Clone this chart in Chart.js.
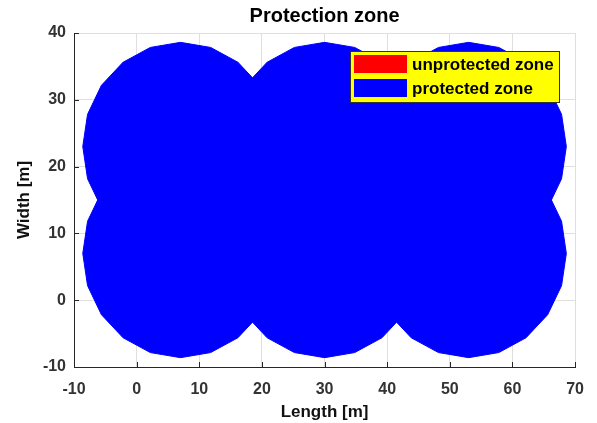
<!DOCTYPE html>
<html>
<head>
<meta charset="utf-8">
<script src="https://cdn.jsdelivr.net/npm/chart.js@4/dist/chart.umd.min.js"></script>
<style>
  html, body { margin: 0; padding: 0; background: #fff; }
  #wrap { width: 597px; height: 423px; }
</style>
</head>
<body>
<div id="wrap"><canvas id="c"></canvas></div>
<script>
// circle grid (m)
const centerX = [7, 30, 53];
const centerY = [7, 23];
const radius = 15.6;
const sides = 20;
const xTicks = [-10, 0, 10, 20, 30, 40, 50, 60, 70];
const yTicks = [-10, 0, 10, 20, 30, 40];
const legendLabels = ['unprotected zone', 'protected zone'];
const legendColors = ['#ff0000', '#0000ff'];
const FONT = "'Liberation Sans', Arial, Helvetica, sans-serif";
const AXIS = '#262626';

// closed polygon outline of one protection circle
function outline(cx, cy) {
  const pts = [];
  for (let i = 0; i <= sides; i++) {
    const a = (i % sides) * 2 * Math.PI / sides;
    pts.push({ x: cx + radius * Math.cos(a), y: cy + radius * Math.sin(a) });
  }
  return pts;
}

const datasets = [{ label: legendLabels[0], data: [], borderColor: legendColors[0], backgroundColor: legendColors[0] }];
centerY.forEach((cy) => centerX.forEach((cx) => {
  datasets.push({
    label: legendLabels[1], data: outline(cx, cy),
    borderColor: legendColors[1], backgroundColor: legendColors[1],
    borderWidth: 1, fill: 'shape', tension: 0, pointRadius: 0,
  });
}));

const decor = {
  id: 'decor',
  afterDatasetsDraw(chart) {
    const { ctx, chartArea: a, scales: { x, y } } = chart;
    ctx.save();
    // inward tick marks
    ctx.strokeStyle = AXIS; ctx.lineWidth = 1;
    ctx.beginPath();
    yTicks.forEach((v) => { const py = Math.round(y.getPixelForValue(v)) + 0.5; ctx.moveTo(a.left, py); ctx.lineTo(a.left + 5, py); });
    xTicks.forEach((v) => { const px = Math.round(x.getPixelForValue(v)) + 0.5; ctx.moveTo(px, a.bottom); ctx.lineTo(px, a.bottom - 5); });
    ctx.stroke();

    // legend box
    const bx = 350, by = 51, bw = 209, bh = 51;
    ctx.fillStyle = '#ffff00';
    ctx.fillRect(bx, by, bw, bh);
    ctx.strokeStyle = '#333'; ctx.lineWidth = 1;
    ctx.strokeRect(bx + 0.5, by + 0.5, bw, bh);
    ctx.font = 'bold 17px ' + FONT;
    ctx.textBaseline = 'middle'; ctx.textAlign = 'left';
    legendLabels.forEach((lab, i) => {
      const ry = by + 4 + i * 24;
      ctx.fillStyle = legendColors[i];
      ctx.fillRect(bx + 4, ry, 53, 18);
      ctx.fillStyle = '#000';
      ctx.fillText(lab, bx + 62, ry + 10);
    });

    // title
    ctx.font = 'bold 20px ' + FONT;
    ctx.textAlign = 'center';
    ctx.fillStyle = '#000';
    ctx.fillText('Protection zone', (a.left + a.right) / 2, 16);
    ctx.restore();
  },
};

new Chart(document.getElementById('c'), {
  type: 'line',
  data: { datasets },
  plugins: [decor],
  options: {
    responsive: true, maintainAspectRatio: false, animation: false,
    layout: { padding: { top: 33, right: 19, left: 0, bottom: 0 } },
    plugins: { legend: { display: false }, tooltip: { enabled: false } },
    scales: {
      x: {
        type: 'linear', min: -10, max: 70,
        afterBuildTicks: (s) => { s.ticks = xTicks.map((v) => ({ value: v })); },
        afterFit: (s) => { s.height = 56; },
        grid: { color: '#dfdfdf', drawTicks: false },
        border: { color: AXIS },
        ticks: { padding: 13, color: '#333', font: { family: FONT, size: 16, weight: 'bold' } },
        title: { display: true, text: 'Length [m]', color: '#111', padding: { top: 0, bottom: 0 }, font: { family: FONT, size: 17, weight: 'bold' } },
      },
      y: {
        type: 'linear', min: -10, max: 40,
        afterBuildTicks: (s) => { s.ticks = yTicks.map((v) => ({ value: v })); },
        afterFit: (s) => { s.width = 74; },
        grid: { color: '#dfdfdf', drawTicks: false },
        border: { color: AXIS },
        ticks: { padding: 8, color: '#333', font: { family: FONT, size: 16, weight: 'bold' } },
        title: { display: true, text: 'Width [m]', color: '#111', padding: { top: 14, bottom: 0 }, font: { family: FONT, size: 17, weight: 'bold' } },
      },
    },
  },
});
</script>
</body>
</html>
